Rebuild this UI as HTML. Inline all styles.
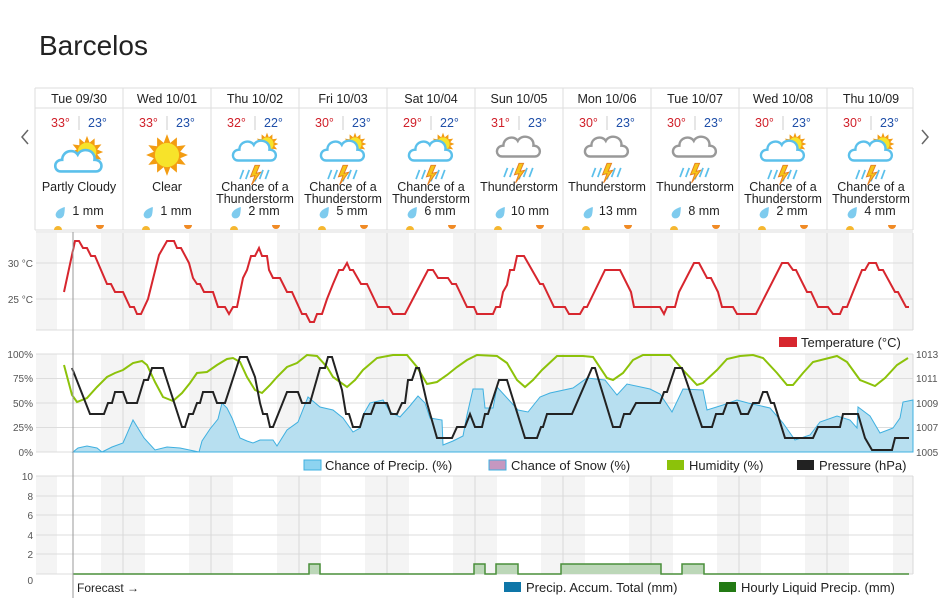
<!DOCTYPE html>
<html><head><meta charset="utf-8"><style>
body{margin:0;background:#fff;}
svg{display:block;font-family:"Liberation Sans",sans-serif;}
</style></head><body>
<svg width="947" height="606" viewBox="0 0 947 606" xmlns="http://www.w3.org/2000/svg">
<defs>
<symbol id="sun" viewBox="-20 -20 40 40"><polygon points="0,-19 3,-11 9,-16 9,-8 17,-9 12,-3 19,0 12,3 17,9 9,8 9,16 3,11 0,19 -3,11 -9,16 -9,8 -17,9 -12,3 -19,0 -12,-3 -17,-9 -9,-8 -9,-16 -3,-11" fill="#f39c12"/><circle r="11" fill="#f7e32a"/></symbol>
<symbol id="cloud" viewBox="0 0 40 24"><path d="M6,22 C0,22 0,13 7,13 C7,6 16,4 19,9 C22,3 33,5 32,13 C39,13 39,22 33,22 Z" fill="#fff" stroke="#5bc0eb" stroke-width="2"/></symbol>
<symbol id="gcloud" viewBox="0 0 40 24"><path d="M6,22 C0,22 0,13 7,13 C7,6 16,4 19,9 C22,3 33,5 32,13 C39,13 39,22 33,22 Z" fill="#fff" stroke="#999" stroke-width="2"/></symbol>
<symbol id="storm" viewBox="0 0 40 40"><g stroke="#5bc0eb" stroke-width="1.5"><line x1="10" y1="26" x2="7" y2="34"/><line x1="15" y1="26" x2="12" y2="34"/><line x1="27" y1="26" x2="24" y2="34"/><line x1="32" y1="26" x2="29" y2="34"/><line x1="22" y1="30" x2="20" y2="36"/></g><polygon points="20,22 16,32 20,31 17,39 25,28 21,29 24,22" fill="#f5c518" stroke="#e67e22" stroke-width="0.8"/></symbol>
<symbol id="drop" viewBox="0 0 10 12"><path d="M9,0 C9,0 1,2 0.5,7 C0.5,11 6,12 8,8 C9,5 9,0 9,0Z" fill="#7ecbee"/></symbol>
<g id="shade" fill="#f4f4f4"><rect x="36" y="0" width="21" height="1"/><rect x="101" y="0" width="44" height="1"/><rect x="189" y="0" width="44" height="1"/><rect x="277" y="0" width="44" height="1"/><rect x="365" y="0" width="44" height="1"/><rect x="453" y="0" width="44" height="1"/><rect x="541" y="0" width="44" height="1"/><rect x="629" y="0" width="44" height="1"/><rect x="717" y="0" width="44" height="1"/><rect x="805" y="0" width="44" height="1"/><rect x="893" y="0" width="20" height="1"/></g>
<g id="vg" fill="#d8d8d8"><rect x="122.5" y="0" width="1" height="1"/><rect x="210.5" y="0" width="1" height="1"/><rect x="298.5" y="0" width="1" height="1"/><rect x="386.5" y="0" width="1" height="1"/><rect x="474.5" y="0" width="1" height="1"/><rect x="562.5" y="0" width="1" height="1"/><rect x="650.5" y="0" width="1" height="1"/><rect x="738.5" y="0" width="1" height="1"/><rect x="826.5" y="0" width="1" height="1"/><rect x="912.5" y="0" width="1" height="1"/></g>
</defs>
<text x="39" y="55" font-size="28" fill="#222">Barcelos</text>
<!-- header -->
<g stroke="#ddd" fill="none"><line x1="35" y1="88" x2="913" y2="88"/><line x1="35" y1="108" x2="913" y2="108"/><line x1="35" y1="230" x2="913" y2="230"/>
<line x1="35" y1="88" x2="35" y2="230"/><line x1="123" y1="88" x2="123" y2="230"/><line x1="211" y1="88" x2="211" y2="230"/><line x1="299" y1="88" x2="299" y2="230"/><line x1="387" y1="88" x2="387" y2="230"/><line x1="475" y1="88" x2="475" y2="230"/><line x1="563" y1="88" x2="563" y2="230"/><line x1="651" y1="88" x2="651" y2="230"/><line x1="739" y1="88" x2="739" y2="230"/><line x1="827" y1="88" x2="827" y2="230"/><line x1="913" y1="88" x2="913" y2="230"/></g>
<path d="M28,130 L22,137 L28,144" stroke="#666" stroke-width="1.5" fill="none"/>
<path d="M922,130 L928,137 L922,144" stroke="#666" stroke-width="1.5" fill="none"/>
<g font-size="12.5" fill="#222" text-anchor="middle">
<text x="79" y="103">Tue 09/30</text><text x="167" y="103">Wed 10/01</text><text x="255" y="103">Thu 10/02</text><text x="343" y="103">Fri 10/03</text><text x="431" y="103">Sat 10/04</text><text x="519" y="103">Sun 10/05</text><text x="607" y="103">Mon 10/06</text><text x="695" y="103">Tue 10/07</text><text x="783" y="103">Wed 10/08</text><text x="871" y="103">Thu 10/09</text>
</g>
<g font-size="12.5">
<g transform="translate(35,0)"><text x="16" y="127" fill="#d0202a">33°</text><text x="53" y="127" fill="#1f4fa8">23°</text></g>
<g transform="translate(123,0)"><text x="16" y="127" fill="#d0202a">33°</text><text x="53" y="127" fill="#1f4fa8">23°</text></g>
<g transform="translate(211,0)"><text x="16" y="127" fill="#d0202a">32°</text><text x="53" y="127" fill="#1f4fa8">22°</text></g>
<g transform="translate(299,0)"><text x="16" y="127" fill="#d0202a">30°</text><text x="53" y="127" fill="#1f4fa8">23°</text></g>
<g transform="translate(387,0)"><text x="16" y="127" fill="#d0202a">29°</text><text x="53" y="127" fill="#1f4fa8">22°</text></g>
<g transform="translate(475,0)"><text x="16" y="127" fill="#d0202a">31°</text><text x="53" y="127" fill="#1f4fa8">23°</text></g>
<g transform="translate(563,0)"><text x="16" y="127" fill="#d0202a">30°</text><text x="53" y="127" fill="#1f4fa8">23°</text></g>
<g transform="translate(651,0)"><text x="16" y="127" fill="#d0202a">30°</text><text x="53" y="127" fill="#1f4fa8">23°</text></g>
<g transform="translate(739,0)"><text x="16" y="127" fill="#d0202a">30°</text><text x="53" y="127" fill="#1f4fa8">23°</text></g>
<g transform="translate(827,0)"><text x="16" y="127" fill="#d0202a">30°</text><text x="53" y="127" fill="#1f4fa8">23°</text></g>
</g>
<g stroke="#ccc"><line x1="79" y1="116" x2="79" y2="130"/><line x1="167" y1="116" x2="167" y2="130"/><line x1="255" y1="116" x2="255" y2="130"/><line x1="343" y1="116" x2="343" y2="130"/><line x1="431" y1="116" x2="431" y2="130"/><line x1="519" y1="116" x2="519" y2="130"/><line x1="607" y1="116" x2="607" y2="130"/><line x1="695" y1="116" x2="695" y2="130"/><line x1="783" y1="116" x2="783" y2="130"/><line x1="871" y1="116" x2="871" y2="130"/></g>
<!-- icons -->
<use href="#sun" x="70" y="135" width="34" height="34"/><use href="#cloud" x="53" y="143" width="52" height="31"/>
<use href="#sun" x="145" y="133" width="44" height="44"/>
<g id="cts"><use href="#sun" x="255" y="132" width="24" height="24"/><use href="#cloud" x="231" y="134" width="48" height="29"/><use href="#storm" x="230" y="140" width="50" height="46"/></g>
<use href="#cts" x="88"/><use href="#cts" x="176"/><use href="#cts" x="528"/><use href="#cts" x="616"/>
<g id="ts"><use href="#gcloud" x="495" y="130" width="48" height="29"/><use href="#storm" x="494" y="138" width="50" height="46"/></g>
<use href="#ts" x="88"/><use href="#ts" x="176"/>
<g font-size="12.5" fill="#222" text-anchor="middle">
<text x="79" y="191">Partly Cloudy</text><text x="167" y="191">Clear</text>
<text x="255" y="191">Chance of a</text><text x="255" y="203">Thunderstorm</text>
<text x="343" y="191">Chance of a</text><text x="343" y="203">Thunderstorm</text>
<text x="431" y="191">Chance of a</text><text x="431" y="203">Thunderstorm</text>
<text x="519" y="191">Thunderstorm</text><text x="607" y="191">Thunderstorm</text><text x="695" y="191">Thunderstorm</text>
<text x="783" y="191">Chance of a</text><text x="783" y="203">Thunderstorm</text>
<text x="871" y="191">Chance of a</text><text x="871" y="203">Thunderstorm</text>
<text x="88" y="215">1 mm</text><text x="176" y="215">1 mm</text><text x="264" y="215">2 mm</text><text x="352" y="215">5 mm</text><text x="440" y="215">6 mm</text><text x="530" y="215">10 mm</text><text x="618" y="215">13 mm</text><text x="704" y="215">8 mm</text><text x="792" y="215">2 mm</text><text x="880" y="215">4 mm</text>
</g>
<g id="drops"><use href="#drop" x="55" y="207" width="11" height="13"/><path d="M54,230 A4,4 0 0 1 62,230Z" fill="#f5b731"/><path d="M96,225 A4,4 0 0 0 104,225Z" fill="#f08a24"/></g>
<use href="#drops" x="88"/><use href="#drops" x="176"/><use href="#drops" x="264"/><use href="#drops" x="352"/><use href="#drops" x="440"/><use href="#drops" x="528"/><use href="#drops" x="616"/><use href="#drops" x="704"/><use href="#drops" x="792"/>
<!-- shading -->
<use href="#shade" transform="translate(0,233) scale(1,97)"/>
<use href="#shade" transform="translate(0,354) scale(1,98)"/>
<use href="#shade" transform="translate(0,476) scale(1,98)"/>
<!-- grids -->
<g stroke="#ddd" fill="none">
<line x1="36" y1="232" x2="913" y2="232"/><line x1="36" y1="263" x2="913" y2="263"/><line x1="36" y1="299" x2="913" y2="299"/><line x1="36" y1="330" x2="913" y2="330"/>
<line x1="36" y1="354" x2="913" y2="354"/><line x1="36" y1="378.5" x2="913" y2="378.5"/><line x1="36" y1="403" x2="913" y2="403"/><line x1="36" y1="427.5" x2="913" y2="427.5"/><line x1="36" y1="452" x2="913" y2="452"/>
<line x1="36" y1="476" x2="913" y2="476"/><line x1="36" y1="496" x2="913" y2="496"/><line x1="36" y1="515" x2="913" y2="515"/><line x1="36" y1="535" x2="913" y2="535"/><line x1="36" y1="554" x2="913" y2="554"/><line x1="36" y1="574" x2="913" y2="574"/>
</g>
<use href="#vg" transform="translate(0,233) scale(1,97)"/>
<use href="#vg" transform="translate(0,354) scale(1,98)"/>
<use href="#vg" transform="translate(0,476) scale(1,98)"/>
<!-- axis labels -->
<g font-size="10" fill="#555" text-anchor="end">
<text x="33" y="267">30 °C</text><text x="33" y="303">25 °C</text>
<text x="33" y="358">100%</text><text x="33" y="382">75%</text><text x="33" y="407">50%</text><text x="33" y="431">25%</text><text x="33" y="456">0%</text>
<text x="33" y="480">10</text><text x="33" y="500">8</text><text x="33" y="519">6</text><text x="33" y="539">4</text><text x="33" y="558">2</text><text x="33" y="584">0</text>
</g>
<g font-size="10" fill="#555"><text x="916" y="358">1013</text><text x="916" y="382">1011</text><text x="916" y="407">1009</text><text x="916" y="431">1007</text><text x="916" y="456">1005</text></g>
<!-- precip chance -->
<polygon fill="#b7dff0" stroke="#3fb0e0" stroke-width="1" points="73,452 78,448 87,446 97,448 102,452 112,447 123,443 133,420 144,438 155,450 167,447 180,448 199,452 202,441 210,429 218,419 222,403 227,408 232,418 240,438 247,441 253,443 260,440 273,440 277,446 287,430 298,422 308,397 320,407 333,410 343,418 353,432 360,428 363,415 370,403 383,400 390,412 400,417 409,407 418,396 425,403 430,418 442,420 443,445 453,441 463,436 467,415 473,389 483,389 485,408 493,408 497,387 518,410 528,412 540,397 550,393 573,388 587,378 605,380 617,395 627,384 650,389 660,394 672,412 683,389 703,390 707,410 723,405 737,400 748,403 770,408 783,423 795,440 810,435 820,422 837,416 850,420 857,428 858,407 870,416 880,433 893,428 900,418 903,402 913,400 913,452"/>
<!-- humidity -->
<polyline fill="none" stroke="#8cc20a" stroke-width="2" points="64,365 72,395 77,402 87,398 97,387 107,377 115,373 123,370 133,363 142,361 147,365 155,382 163,397 173,401 182,393 190,383 197,373 207,372 217,365 227,359 233,358 240,362 247,377 255,390 262,393 270,385 277,377 287,367 297,363 307,355 317,356 327,367 333,377 347,387 355,380 363,370 377,358 393,355 407,355 417,367 427,384 437,382 447,375 457,367 467,360 477,355 497,356 507,363 517,380 525,387 533,380 542,370 557,356 583,356 593,357 607,378 613,380 623,373 633,360 643,355 670,355 683,370 697,385 703,383 717,370 727,359 740,356 753,355 763,358 777,373 787,385 793,385 803,373 813,362 837,356 847,362 860,380 875,386 885,378 897,365 908,358"/>
<!-- pressure -->
<polyline fill="none" stroke="#222" stroke-width="2" points="72,368 90,414 104,414 108,403 112,403 115,392 123,392 127,403 137,403 144,380 148,380 152,368 163,368 182,427 185,427 189,414 193,414 197,403 200,403 203,392 213,392 217,403 225,403 240,357 247,357 255,377 260,403 263,414 267,414 270,427 273,427 287,392 298,392 302,403 310,403 320,368 325,368 328,357 332,357 342,390 346,414 349,414 353,427 360,427 364,414 371,414 375,403 387,403 391,414 397,414 402,403 405,403 408,380 412,380 416,368 419,368 427,403 437,438 452,438 457,427 465,427 470,414 475,427 482,427 485,414 488,414 499,380 507,380 525,438 537,438 541,427 543,427 547,414 572,414 592,368 595,368 613,427 620,427 624,414 630,414 636,403 660,403 664,392 667,392 675,368 682,368 702,427 712,427 716,414 723,414 727,403 737,403 741,414 748,414 753,403 759,403 763,392 767,392 771,403 774,403 785,438 813,438 818,427 840,427 843,414 858,414 865,438 872,450 892,450 895,438 909,438"/>
<!-- temperature -->
<polyline fill="none" stroke="#d7262e" stroke-width="2" points="64,292 75,241 79,241 83,248 87,248 91,256 95,256 107,284 111,284 115,292 123,292 130,307 134,307 137,314 141,314 148,299 159,255 167,241 174,241 177,248 181,248 189,263 193,278 197,284 200,284 204,292 213,292 218,307 225,307 229,314 233,307 237,307 243,278 247,270 251,256 255,256 259,248 262,256 267,256 269,270 273,278 280,278 287,292 292,292 302,314 306,314 310,322 314,322 317,314 322,314 327,299 333,284 339,270 343,270 347,263 350,270 353,270 361,284 367,284 378,307 389,307 393,314 405,314 428,270 433,270 438,278 448,278 452,284 456,284 467,307 474,307 477,314 493,314 496,307 500,307 503,292 507,285 510,270 514,270 517,256 524,256 540,284 543,284 554,307 565,307 569,314 580,314 584,307 587,307 605,270 620,270 631,292 634,307 660,307 664,314 667,307 675,307 679,292 694,263 699,263 707,278 711,278 718,292 722,307 733,307 737,314 756,314 782,263 788,263 793,270 796,270 807,292 811,292 818,307 828,307 833,314 840,314 843,307 847,307 853,292 862,270 865,270 869,263 876,263 879,270 883,270 895,292 898,292 906,307 909,307"/>
<!-- hourly precip -->
<path d="M73,574 L309,574 L309,564 L320,564 L320,574 L474,574 L474,564 L485,564 L485,574 L496,574 L496,564 L518,564 L518,574 L561,574 L561,564 L661,564 L661,574 L682,574 L682,564 L704,564 L704,574 L909,574" fill="#bcd7b8" stroke="#4a8f3a" stroke-width="1.5"/>
<!-- forecast line -->
<line x1="73" y1="232" x2="73" y2="598" stroke="#999" stroke-width="1"/>
<text x="77" y="592" font-size="12" fill="#222">Forecast →</text>
<!-- legends -->
<g font-size="13" fill="#222">
<rect x="779" y="337" width="18" height="10" fill="#d7262e"/><text x="801" y="347">Temperature (°C)</text>
<rect x="304" y="460" width="17" height="10" fill="#8dd3f0" stroke="#3fb0e0"/><text x="325" y="470">Chance of Precip. (%)</text>
<rect x="489" y="460" width="17" height="10" fill="#c597c0" stroke="#3fb0e0"/><text x="511" y="470">Chance of Snow (%)</text>
<rect x="667" y="460" width="17" height="10" fill="#8cc20a"/><text x="689" y="470">Humidity (%)</text>
<rect x="797" y="460" width="17" height="10" fill="#222"/><text x="819" y="470">Pressure (hPa)</text>
<rect x="504" y="582" width="17" height="10" fill="#0e76a8"/><text x="526" y="592">Precip. Accum. Total (mm)</text>
<rect x="719" y="582" width="17" height="10" fill="#237a14"/><text x="741" y="592">Hourly Liquid Precip. (mm)</text>
</g>
</svg>
</body></html>
